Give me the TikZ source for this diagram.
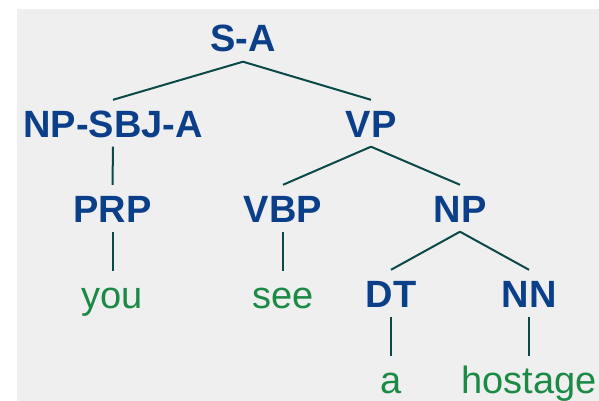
\documentclass[tikz,border=0pt]{standalone}
\usepackage{fontspec}
\setmainfont{Liberation Sans}
\definecolor{bgc}{HTML}{EFEFEF}
\definecolor{tagc}{HTML}{0B3F8A}
\definecolor{wordc}{HTML}{1A8A45}
\definecolor{linec}{HTML}{0B4848}
\begin{document}
\begin{tikzpicture}[x=1pt,y=-1pt,
  lbl/.style={anchor=base, inner xsep=0pt, inner ysep=9.5pt, text height=27.5pt, text depth=0pt,
    font=\fontsize{38}{44}\selectfont},
  tag/.style={lbl, text=tagc, font=\fontsize{38}{44}\selectfont\bfseries},
  word/.style={lbl, text=wordc},
  edge/.style={draw=linec, line width=2pt}]
\useasboundingbox (0,0) rectangle (599,401);
\fill[white] (0,0) rectangle (599,401);
\fill[bgc] (17,9) rectangle (599,401);
\node[tag] (s) at (243,52) {S-A};
\node[tag] (npsbj) at (113,137) {NP-SBJ-A};
\node[tag] (vp) at (371,137) {VP};
\node[tag] (prp) at (112.5,222) {PRP};
\node[tag] (vbp) at (283,222) {VBP};
\node[tag] (np) at (460,222) {NP};
\node[tag] (dt) at (391,307) {DT};
\node[tag] (nn) at (529,307) {NN};
\node[word] (you) at (112.5,308) {you};
\node[word] (see) at (283,308) {see};
\node[word] (a) at (391,393) {a};
\node[word] (hostage) at (529,393) {hostage};
\draw[edge] (s.south) -- (npsbj.north);
\draw[edge] (s.south) -- (vp.north);
\draw[edge] (npsbj.south) -- (prp.north);
\draw[edge] (vp.south) -- (vbp.north);
\draw[edge] (vp.south) -- (np.north);
\draw[edge] (prp.south) -- (you.north);
\draw[edge] (vbp.south) -- (see.north);
\draw[edge] (np.south) -- (dt.north);
\draw[edge] (np.south) -- (nn.north);
\draw[edge] (dt.south) -- (a.north);
\draw[edge] (nn.south) -- (hostage.north);
\end{tikzpicture}
\end{document}
